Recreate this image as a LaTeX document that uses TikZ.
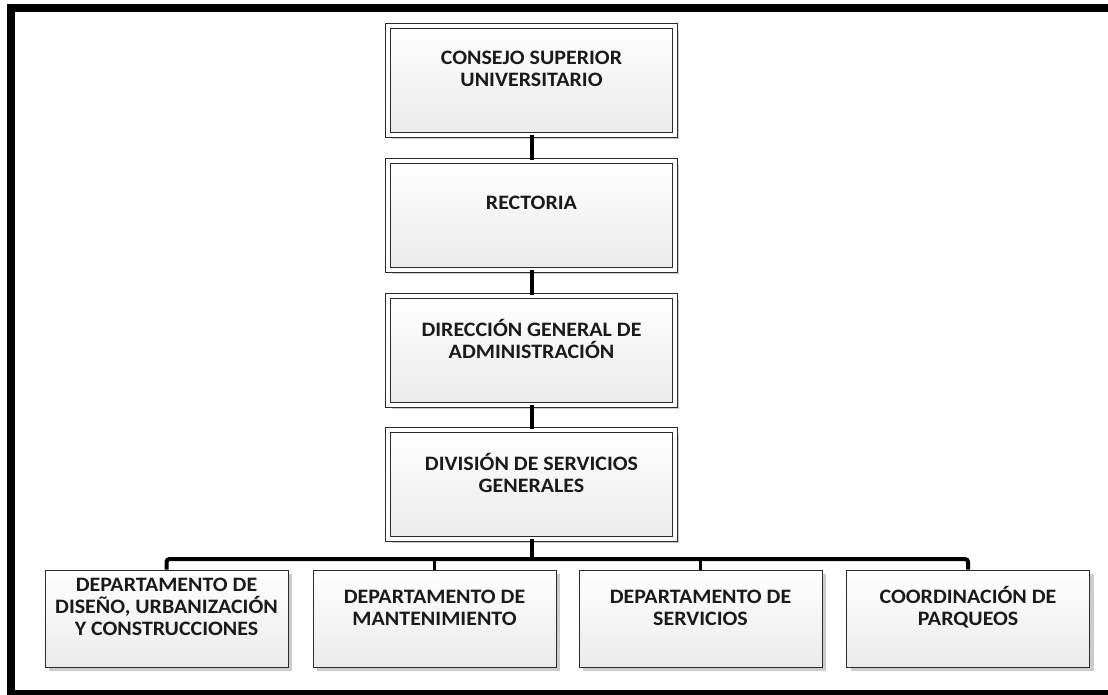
\documentclass[tikz,border=0pt]{standalone}
\usepackage{fontspec}
\setmainfont{Carlito}[FakeStretch=1.07]
\usetikzlibrary{shadows}
\definecolor{edge}{HTML}{2B2B2B}
\definecolor{txt}{HTML}{1A1A1A}
\begin{document}
\begin{tikzpicture}[x=1pt,y=-1pt,
  chainbox/.style={draw=edge, line width=1pt, double=white, double distance=4pt,
    top color=white, bottom color=black!8, minimum width=287pt, minimum height=109pt,
    inner sep=0pt, drop shadow={shadow xshift=4pt, shadow yshift=-4pt, fill=black!20, opacity=1}},
  deptbox/.style={draw=edge, line width=1pt, top color=white, bottom color=black!8,
    minimum width=243pt, minimum height=97pt, inner sep=0pt,
    drop shadow={shadow xshift=4pt, shadow yshift=-4pt, fill=black!20, opacity=1}},
  lbl/.style={text=txt, font=\fontsize{20.5}{22}\selectfont\bfseries, align=center, inner sep=0pt},
  link/.style={line width=4pt, black},
  drop/.style={line width=3pt, black},
  busline/.style={line width=4pt, black, rounded corners=3pt},
  frame/.style={line width=8pt, black}]
\useasboundingbox (0,0) rectangle (1108,694);
\fill[white] (0,0) rectangle (1108,694);
\draw[frame] (1120,7.5) -- (11,7.5) -- (11,694) -- (1120,694);

\node[chainbox] (c1) at (531.5,80) {};
\node[chainbox] (c2) at (531.5,215) {};
\node[chainbox] (c3) at (531.5,350) {};
\node[chainbox] (c4) at (531.5,484) {};

\node[deptbox] (d1) at (166.5,618.5) {};
\node[deptbox] (d2) at (434.5,618.5) {};
\node[deptbox] (d3) at (700.5,618.5) {};
\node[deptbox] (d4) at (968,618.5) {};

\node[lbl] (t1) at ([yshift=11pt]c1.center) {CONSEJO SUPERIOR\\UNIVERSITARIO};
\node[lbl] (t2) at ([yshift=12pt]c2.center) {RECTORIA};
\node[lbl] (t3) at ([yshift=11pt]c3.center) {DIRECCIÓN GENERAL DE\\ADMINISTRACIÓN};
\node[lbl] (t4) at ([yshift=11pt]c4.center) {DIVISIÓN DE SERVICIOS\\GENERALES};
\node[lbl] (u1) at ([yshift=12pt]d1.center) {DEPARTAMENTO DE\\DISEÑO, URBANIZACIÓN\\Y CONSTRUCCIONES};
\node[lbl] (u2) at ([yshift=11pt]d2.center) {DEPARTAMENTO DE\\MANTENIMIENTO};
\node[lbl] (u3) at ([yshift=11pt]d3.center) {DEPARTAMENTO DE\\SERVICIOS};
\node[lbl] (u4) at ([yshift=11pt]d4.center) {COORDINACIÓN DE\\PARQUEOS};

\draw[link] (c1.south) -- (c2.north);
\draw[link] (c2.south) -- (c3.north);
\draw[link] (c3.south) -- (c4.north);
\coordinate (bus) at (531.5,559);
\draw[link] (c4.south) -- (bus);
\draw[busline] (d1.north) -- (d1.north |- bus) -- (d4.north |- bus) -- (d4.north);
\draw[drop] (d2.north) -- (d2.north |- bus);
\draw[drop] (d3.north) -- (d3.north |- bus);
\end{tikzpicture}
\end{document}
